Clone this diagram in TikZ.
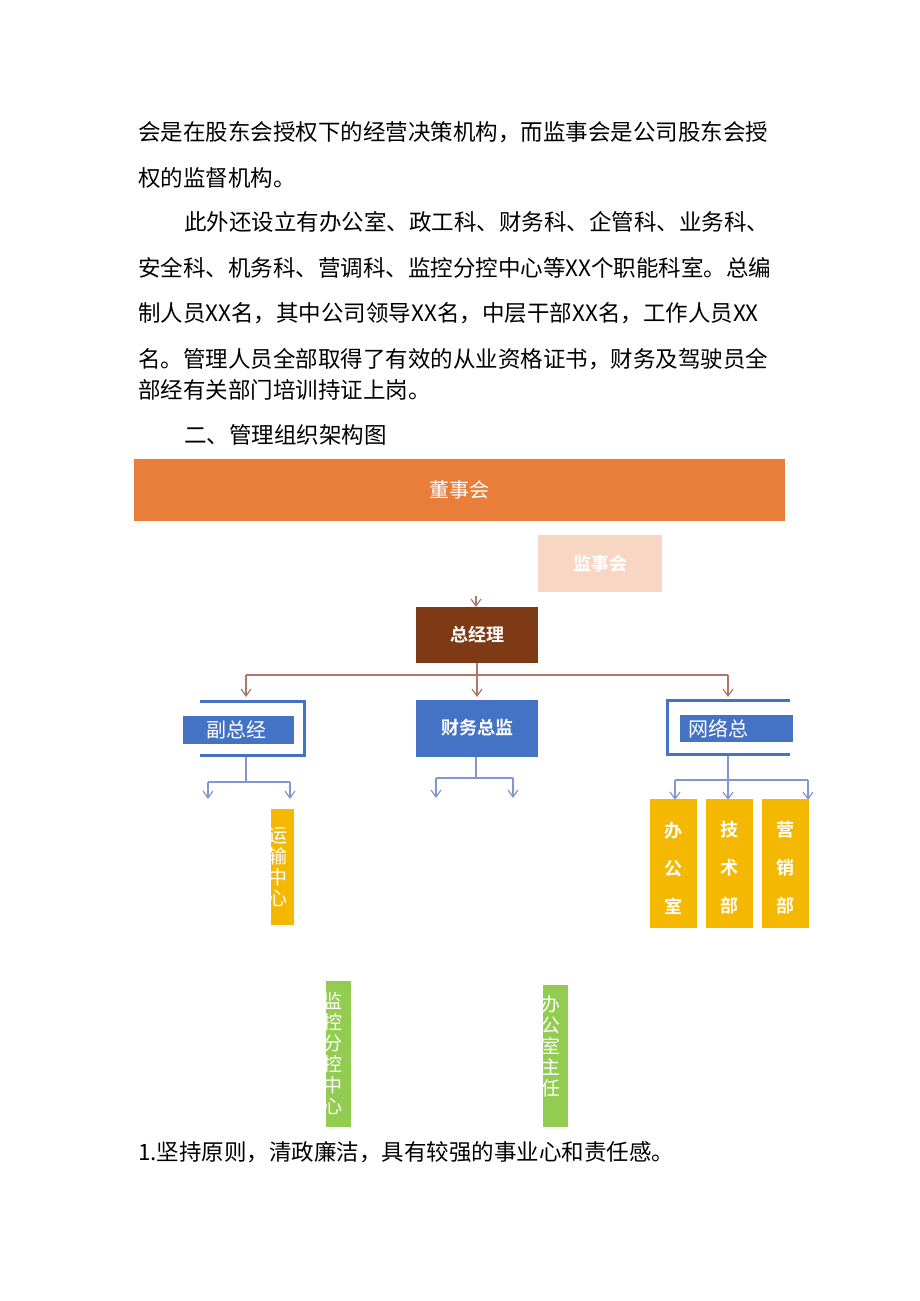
\documentclass[tikz,border=0pt]{standalone}
\usepackage{fontspec}
\setmainfont{Noto Sans CJK SC}[BoldFont={Noto Sans CJK SC Bold}]
\usetikzlibrary{arrows.meta,positioning}
\definecolor{dongshi}{RGB}{233,125,58}
\definecolor{jianshi}{RGB}{248,214,196}
\definecolor{zongjl}{RGB}{125,58,20}
\definecolor{lanse}{RGB}{68,114,196}
\definecolor{huangse}{RGB}{245,184,0}
\definecolor{lvse}{RGB}{146,204,80}
\definecolor{lineor}{RGB}{176,120,100}
\definecolor{lineblue}{RGB}{130,150,210}
\tikzset{
  bodytext/.style={anchor=west,inner sep=0pt,font=\fontsize{22.5}{24}\selectfont},
  box/.style={anchor=north west,inner sep=0pt,minimum width=#1},
  orarrow/.style={draw=lineor,line width=1.2pt,-{Straight Barb[length=7pt,width=10pt]}},
  bluearrow/.style={draw=lineblue,line width=1.2pt,-{Straight Barb[length=7pt,width=10pt]}},
  vchars/.style={text=white,font=\fontsize{18}{38}\selectfont\bfseries,align=center,inner sep=0pt},
  thinv/.style={text=white,font=\fontsize{19}{21}\selectfont,align=center,inner sep=0pt},
}
\begin{document}
\begin{tikzpicture}[x=1pt,y=-1pt]
\useasboundingbox (0,0) rectangle (920,1301);

% Text
\node[bodytext] (t1) at (138,132) {会是在股东会授权下的经营决策机构，而监事会是公司股东会授};
\node[bodytext] (t2) at (138,178) {权的监督机构。};
\node[bodytext] (t3) at (184,222) {此外还设立有办公室、政工科、财务科、企管科、业务科、};
\node[bodytext] (t4) at (138,268) {安全科、机务科、营调科、监控分控中心等XX个职能科室。总编};
\node[bodytext] (t5) at (138,313) {制人员XX名，其中公司领导XX名，中层干部XX名，工作人员XX};
\node[bodytext] (t6) at (138,359) {名。管理人员全部取得了有效的从业资格证书，财务及驾驶员全};
\node[bodytext] (t7) at (138,390) {部经有关部门培训持证上岗。};
\node[bodytext] (t8) at (184,435) {二、管理组织架构图};
\node[bodytext] (t9) at (138,1152) {1.坚持原则，清政廉洁，具有较强的事业心和责任感。};

% Boxes
\fill[dongshi] (134,459) rectangle (785,521);
\node[text=white,font=\fontsize{20}{22}\selectfont] (dsh) at (459.5,490) {董事会};
\fill[jianshi] (538,535) rectangle (662,592);
\node[text=white,font=\fontsize{18}{20}\selectfont\bfseries] (jsh) at (600,564) {监事会};
\fill[zongjl] (416,607) rectangle (538,663);
\node[text=white,font=\fontsize{18}{20}\selectfont\bfseries] (zjl) at (477,635) {总经理};
\draw[orarrow] (476,596) -- (476,607);

\draw[lanse,line width=3pt] (200,701) -- (304,701) -- (304,755) -- (200,755);
\fill[lanse] (183,716) rectangle (294,744);
\node[text=white,font=\fontsize{20}{22}\selectfont] (fzj) at (236,730) {副总经};
\fill[lanse] (416,700) rectangle (538,757);
\node[text=white,font=\fontsize{18}{20}\selectfont\bfseries] (cwzj) at (477,728) {财务总监};
\draw[lanse,line width=3pt] (790,700) -- (667,700) -- (667,754) -- (790,754);
\fill[lanse] (680,715) rectangle (793,742);
\node[text=white,font=\fontsize{20}{22}\selectfont] (wlz) at (718,729) {网络总};

% connectors, level 1
\coordinate (h1) at (246,675);
\coordinate (h3) at (728,675);
\draw[lineor,line width=1.2pt] (h1) -- (h3);
\draw[orarrow] (h1) -- (246,697);
\draw[orarrow] (477,663) -- (477,697);
\draw[orarrow] (h3) -- (728,697);

% connectors, level 2
\draw[lineblue,line width=1.2pt] (246,757) -- (246,782) (208,782) -- (290,782);
\draw[bluearrow] (208,782) -- (208,799);
\draw[bluearrow] (290,782) -- (290,799);
\draw[lineblue,line width=1.2pt] (476,757) -- (476,778) (436,778) -- (513,778);
\draw[bluearrow] (436,778) -- (436,798);
\draw[bluearrow] (513,778) -- (513,798);
\draw[lineblue,line width=1.2pt] (675,780) -- (808,780);
\draw[bluearrow] (675,780) -- (675,800);
\draw[bluearrow] (728,756) -- (728,800);
\draw[bluearrow] (808,780) -- (808,800);

% yellow and green
\fill[huangse] (271,809) rectangle (294,925);
\begin{scope}
\clip (271,809) rectangle (294,925);
\node[thinv] (ysh) at (278,867) {运\\输\\中\\心};
\end{scope}
\foreach \x/\t/\n in {650/办\\公\\室/bgs,706/技\\术\\部/jsb,762/营\\销\\部/yxb}{
  \fill[huangse] (\x,799) rectangle (\x+47,928);
  \node[vchars] (\n) at (\x+23.5,868) {\t};
}
\fill[lvse] (326,981) rectangle (351,1127);
\begin{scope}
\clip (326,981) rectangle (351,1127);
\node[thinv] (jkzx) at (333,1054) {监\\控\\分\\控\\中\\心};
\end{scope}
\fill[lvse] (543,985) rectangle (568,1127);
\begin{scope}
\clip (543,985) rectangle (568,1127);
\node[thinv] (bgszr) at (551,1046) {办\\公\\室\\主\\任};
\end{scope}
\end{tikzpicture}
\end{document}
